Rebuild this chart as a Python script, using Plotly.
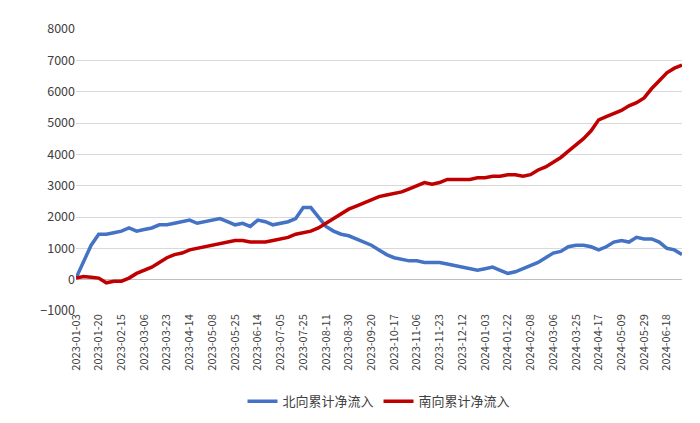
import plotly.graph_objects as go

dates = ["2023-01-03","2023-01-09","2023-01-13","2023-01-20","2023-02-01","2023-02-08","2023-02-15","2023-02-21","2023-02-28",
"2023-03-06","2023-03-13","2023-03-17","2023-03-23","2023-03-30","2023-04-07","2023-04-14","2023-04-21","2023-04-28",
"2023-05-08","2023-05-15","2023-05-19","2023-05-25","2023-06-01","2023-06-08","2023-06-14","2023-06-21","2023-06-29",
"2023-07-05","2023-07-12","2023-07-18","2023-07-25","2023-07-31","2023-08-04","2023-08-11","2023-08-17","2023-08-23",
"2023-08-30","2023-09-06","2023-09-13","2023-09-20","2023-10-09","2023-10-12","2023-10-17","2023-10-24","2023-10-31",
"2023-11-06","2023-11-13","2023-11-17","2023-11-23","2023-11-29","2023-12-05","2023-12-12","2023-12-18","2023-12-25",
"2024-01-03","2024-01-09","2024-01-16","2024-01-22","2024-01-26","2024-02-01","2024-02-08","2024-02-23","2024-02-29",
"2024-03-06","2024-03-12","2024-03-19","2024-03-25","2024-04-02","2024-04-10","2024-04-17","2024-04-24","2024-04-30",
"2024-05-09","2024-05-15","2024-05-22","2024-05-29","2024-06-04","2024-06-11","2024-06-18","2024-06-21","2024-06-25","2024-06-28"]

north = [50,600,1100,1450,1450,1500,1550,1650,1550,1600,1650,1750,1750,1800,1850,1900,1800,1850,1900,1950,1850,1750,1800,1700,
1900,1850,1750,1800,1850,1950,2300,2300,2000,1700,1550,1450,1400,1300,1200,1100,950,800,700,650,600,600,550,550,550,500,450,
400,350,300,350,400,300,200,250,350,450,550,700,850,900,1050,1100,1100,1050,950,1050,1200,1250,1200,1350,1300,1300,1200,1000,950,800]

south = [50,100,80,50,-100,-50,-50,50,200,300,400,550,700,800,850,950,1000,1050,1100,1150,1200,1250,1250,1200,1200,1200,1250,
1300,1350,1450,1500,1550,1650,1800,1950,2100,2250,2350,2450,2550,2650,2700,2750,2800,2900,3000,3100,3050,3100,3200,3200,3200,
3200,3250,3250,3300,3300,3350,3350,3300,3350,3500,3600,3750,3900,4100,4300,4500,4750,5100,5200,5300,5400,5550,5650,5800,6100,
6350,6600,6750,6850]

tick_labels = dates[0:79:3]

fig = go.Figure()
fig.add_trace(go.Scatter(x=dates, y=north, mode="lines", name="北向累计净流入",
                         line=dict(color="#4472C4", width=3.5)))
fig.add_trace(go.Scatter(x=dates, y=south, mode="lines", name="南向累计净流入",
                         line=dict(color="#C00000", width=3.5)))
fig.update_layout(
    width=700, height=423, plot_bgcolor="white", paper_bgcolor="white",
    margin=dict(l=68, r=26, t=21, b=120, autoexpand=False),
    font=dict(family="Noto Sans CJK SC", size=12, color="#404040"),
    legend=dict(orientation="h", x=0.5, xanchor="center", y=-0.32, yanchor="middle", font=dict(size=13)),
    showlegend=True,
)
fig.update_xaxes(type="category", tickmode="array", tickvals=tick_labels, ticktext=tick_labels,
                 tickangle=-90, tickfont=dict(size=11), showgrid=False, ticks="", automargin=False)
fig.update_yaxes(range=[-1000, 8000], dtick=1000, gridcolor="#D9D9D9", zeroline=True,
                 zerolinecolor="#BFBFBF", zerolinewidth=1, tickfont=dict(size=12.5), automargin=False)
fig.write_html("out.html")
